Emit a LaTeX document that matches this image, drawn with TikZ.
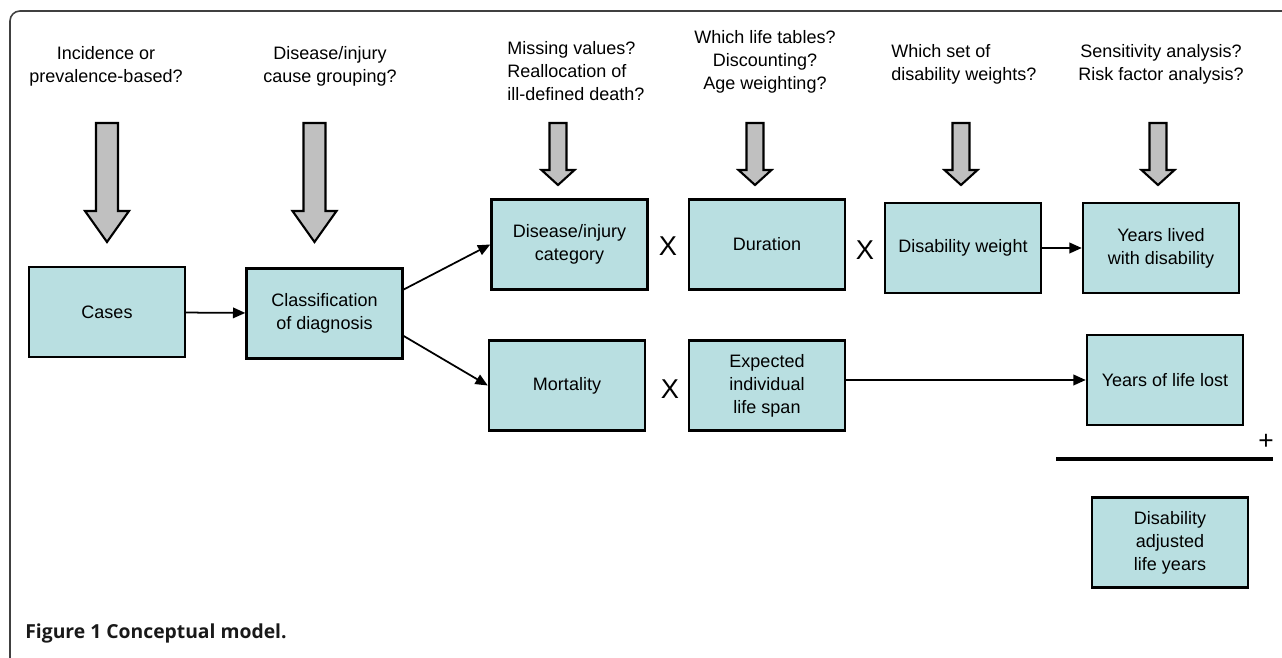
\documentclass[tikz,border=0pt]{standalone}
\usepackage{fontspec}
\setmainfont{Liberation Sans}
\newfontfamily\capfont{Open Sans}
\usepackage{tikz}
\usetikzlibrary{arrows.meta}
\usepackage{xcolor}
\definecolor{boxfill}{HTML}{B9DFE1}
\definecolor{qgray}{HTML}{C0C0C0}
\definecolor{framegray}{HTML}{404040}

% gray question arrow: x, top, head start, tip, half shaft, half head
\newcommand{\qarrow}[6]{%
    \draw[qbody] (#1-#5, #2) -- (#1+#5, #2) -- (#1+#5, #3) -- (#1+#6, #3)
        -- (#1, #4) -- (#1-#6, #3) -- (#1-#5, #3) -- cycle;}

\begin{document}
\begin{tikzpicture}[x=0.02cm, y=-0.02cm,
    font=\fontsize{10.25}{13.1}\selectfont,
    box/.style={draw, line width=1.4pt, fill=boxfill, minimum width=3.12cm,
        minimum height=1.8cm, align=center, inner sep=2pt},
    question/.style={inner sep=0pt, align=center},
    times/.style={inner sep=0pt, font=\fontsize{15.5}{18}\selectfont},
    qbody/.style={draw, line width=1.2pt, fill=qgray, line join=miter},
    conn/.style={-{Triangle[length=7pt, width=6pt]}, line width=1pt}]
    \useasboundingbox (0, 0) rectangle (1282, 658);
    \draw[framegray, line width=0.9pt, rounded corners=0.2cm]
        (10, 658) -- (10, 11) -- (1282, 11);

    \node[question] (q1) at (106, 66.5) {Incidence or\\prevalence-based?};
    \node[question] (q2) at (330, 66.5) {Disease/injury\\cause grouping?};
    \node[question, align=left, anchor=west] (q3) at (507, 71.5) {Missing values?\\Reallocation of\\ill-defined death?};
    \node[question] (q4) at (765, 62) {Which life tables?\\Discounting?\\Age weighting?};
    \node[question, align=left, anchor=west] (q5) at (891, 64.5) {Which set of\\disability weights?};
    \node[question] (q6) at (1161, 64.5) {Sensitivity analysis?\\Risk factor analysis?};

    \qarrow{107}{123}{211}{242}{11}{22}
    \qarrow{314.5}{123}{211}{242}{11}{22}
    \qarrow{558}{123}{170}{185}{8.5}{16.5}
    \qarrow{755}{123}{170}{185}{8.5}{16.5}
    \qarrow{961}{123}{170}{185}{8.5}{16.5}
    \qarrow{1158}{123}{170}{185}{8.5}{16.5}

    \node[box] (cases) at (107, 312) {Cases};
    \node[box] (classif) at (324.5, 313.5) {Classification\\of diagnosis};
    \node[box] (disease) at (569.5, 244.5) {Disease/injury\\category};
    \node[box] (duration) at (767, 244.5) {Duration};
    \node[box] (dweight) at (963, 248) {Disability weight};
    \node[box] (yld) at (1161, 248) {Years lived\\with disability};
    \node[box] (mortality) at (567, 385.5) {Mortality};
    \node[box] (expected) at (767, 385.5) {Expected\\individual\\life span};
    \node[box] (yll) at (1165, 380) {Years of life lost};
    \node[box] (daly) at (1170, 542.5) {Disability\\adjusted\\life years};

    \node[times] (x1) at (668, 246) {X};
    \node[times] (x2) at (865, 250) {X};
    \node[times] (x3) at (670, 389) {X};

    \draw[conn] (cases) -- (classif);
    \draw[conn] ([yshift=0.48cm]classif.east) -- (disease.west);
    \draw[conn] ([yshift=-0.45cm]classif.east) -- (mortality.west);
    \draw[conn] (dweight) -- (yld);
    \draw[conn] (yll.west -| expected.east) -- (yll.west);

    % sum of the two
    \draw[line width=2.2pt] (1056, 459) -- (1273, 459);
    \node[inner sep=0pt, font=\fontsize{15}{17}\selectfont] (plus) at (1266, 442) {+};

    \node[anchor=west, inner sep=0pt, text=black!90,
        font=\capfont\bfseries\fontsize{11}{13}\selectfont] (caption) at (25, 633)
        {Figure 1 Conceptual model.};
\end{tikzpicture}
\end{document}
